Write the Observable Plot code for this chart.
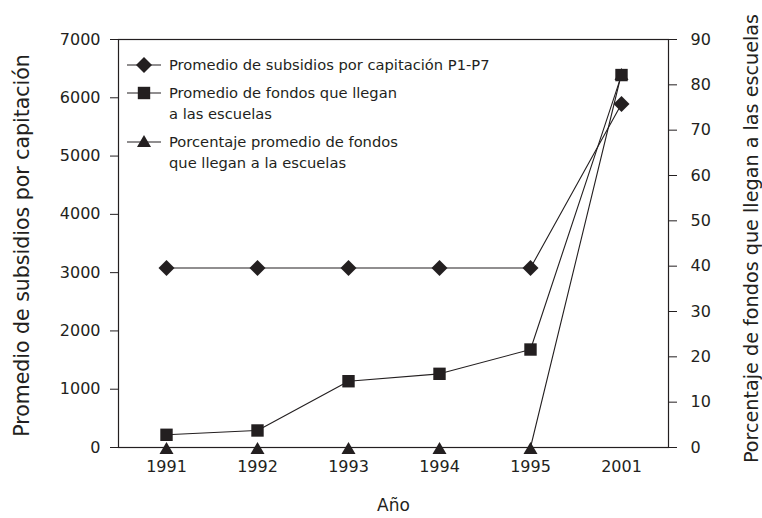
<!DOCTYPE html>
<html>
<head>
<meta charset="utf-8">
<script src="https://cdn.jsdelivr.net/npm/d3@7"></script>
<script src="https://cdn.jsdelivr.net/npm/@observablehq/plot@0.6"></script>
<style>
  body { margin: 0; background: white; }
  #wrap { position: relative; width: 762px; height: 518px; }
  #legend { position: absolute; left: 126px; top: 54px; font-family: "DejaVu Sans", sans-serif; font-size: 14.7px; color: #231f20; }
  .row { display: flex; align-items: flex-start; margin-bottom: 7px; line-height: 21px; }
  .row svg { flex: none; margin-right: 7px; margin-top: 2px; }
</style>
</head>
<body>
<div id="wrap">
  <div id="legend"></div>
</div>
<script>
const years = ["1991", "1992", "1993", "1994", "1995", "2001"];
const subsidios = [3080, 3080, 3080, 3080, 3080, 5895];
const fondos = [218, 292, 1137, 1264, 1681, 6390];
const porcentaje = [0, 0, 0, 0, 0, 82.5];
const leftTicks = [0, 1000, 2000, 3000, 4000, 5000, 6000, 7000];
const rightTicks = [0, 10, 20, 30, 40, 50, 60, 70, 80, 90];
const legendLabels = [
  ["Promedio de subsidios por capitación P1-P7"],
  ["Promedio de fondos que llegan", "a las escuelas"],
  ["Porcentaje promedio de fondos", "que llegan a la escuelas"]
];
const leftTitle = "Promedio de subsidios por capitación";
const rightTitle = "Porcentaje de fondos que llegan a las escuelas";
const xTitle = "Año";

const ink = "#231f20";
const pct = d3.scaleLinear([0, 90], [0, 7000]);

const rows = years.map((y, i) => ({
  year: y,
  subsidios: subsidios[i],
  fondos: fondos[i],
  pctY: pct(porcentaje[i])
}));

const chart = Plot.plot({
  width: 762,
  height: 518,
  marginLeft: 118,
  marginRight: 94,
  marginTop: 39,
  marginBottom: 71,
  style: { fontFamily: "DejaVu Sans, sans-serif", fontSize: "16px", color: ink, background: "white", overflow: "visible" },
  x: { type: "point", domain: years, padding: 0.5 },
  y: { domain: [0, 7000] },
  marks: [
    Plot.frame({ stroke: ink, strokeWidth: 1.2 }),
    Plot.axisY({ anchor: "left", ticks: leftTicks, tickSize: 8, tickPadding: 10, tickFormat: d => String(d), label: null, stroke: ink, fill: ink }),
    Plot.axisY({ anchor: "right", ticks: rightTicks.map(pct), tickSize: 8, tickPadding: 14, tickFormat: d => String(Math.round(pct.invert(d))), label: null, stroke: ink, fill: ink }),
    Plot.axisX({ anchor: "bottom", tickSize: 0, tickPadding: 13, label: null, fill: ink }),
    Plot.text([leftTitle], { frameAnchor: "left", textAnchor: "middle", lineAnchor: "middle", dx: -96, dy: 2, rotate: -90, fontSize: 20.5, fill: ink }),
    Plot.text([rightTitle], { frameAnchor: "right", textAnchor: "middle", lineAnchor: "middle", dx: 83, dy: -5, rotate: -90, fontSize: 19.2, fill: ink }),
    Plot.text([xTitle], { frameAnchor: "bottom", dy: 63, fontSize: 17, fill: ink }),
    Plot.line(rows, { x: "year", y: "pctY", stroke: ink, strokeWidth: 1.1 }),
    Plot.dot(rows, { x: "year", y: "pctY", symbol: "triangle", r: 5.2, fill: ink, stroke: "none", dy: 2.5 }),
    Plot.line(rows, { x: "year", y: "subsidios", stroke: ink, strokeWidth: 1.1 }),
    Plot.dot(rows, { x: "year", y: "subsidios", symbol: "diamond2", r: 7.2, fill: ink, stroke: "none" }),
    Plot.line(rows, { x: "year", y: "fondos", stroke: ink, strokeWidth: 1.1 }),
    Plot.dot(rows, { x: "year", y: "fondos", symbol: "square", r: 7.0, fill: ink, stroke: "none" })
  ]
});
document.getElementById("wrap").prepend(chart);

// legend
const symbols = [d3.symbolDiamond2, d3.symbolSquare, d3.symbolTriangle];
const sizes = [Math.PI * 7.2 * 7.2, Math.PI * 7 * 7, Math.PI * 5.2 * 5.2];
const legend = d3.select("#legend");
legendLabels.forEach((lines, i) => {
  const row = legend.append("div").attr("class", "row");
  const svg = row.append("svg").attr("width", 36).attr("height", 18);
  svg.append("line").attr("x1", 1).attr("x2", 35).attr("y1", 9).attr("y2", 9).attr("stroke", ink).attr("stroke-width", 1.1);
  svg.append("path").attr("transform", `translate(18,${i === 2 ? 10 : 9})`).attr("d", d3.symbol(symbols[i], sizes[i])()).attr("fill", ink);
  row.append("div").html(lines.join("<br>"));
});
</script>
</body>
</html>
